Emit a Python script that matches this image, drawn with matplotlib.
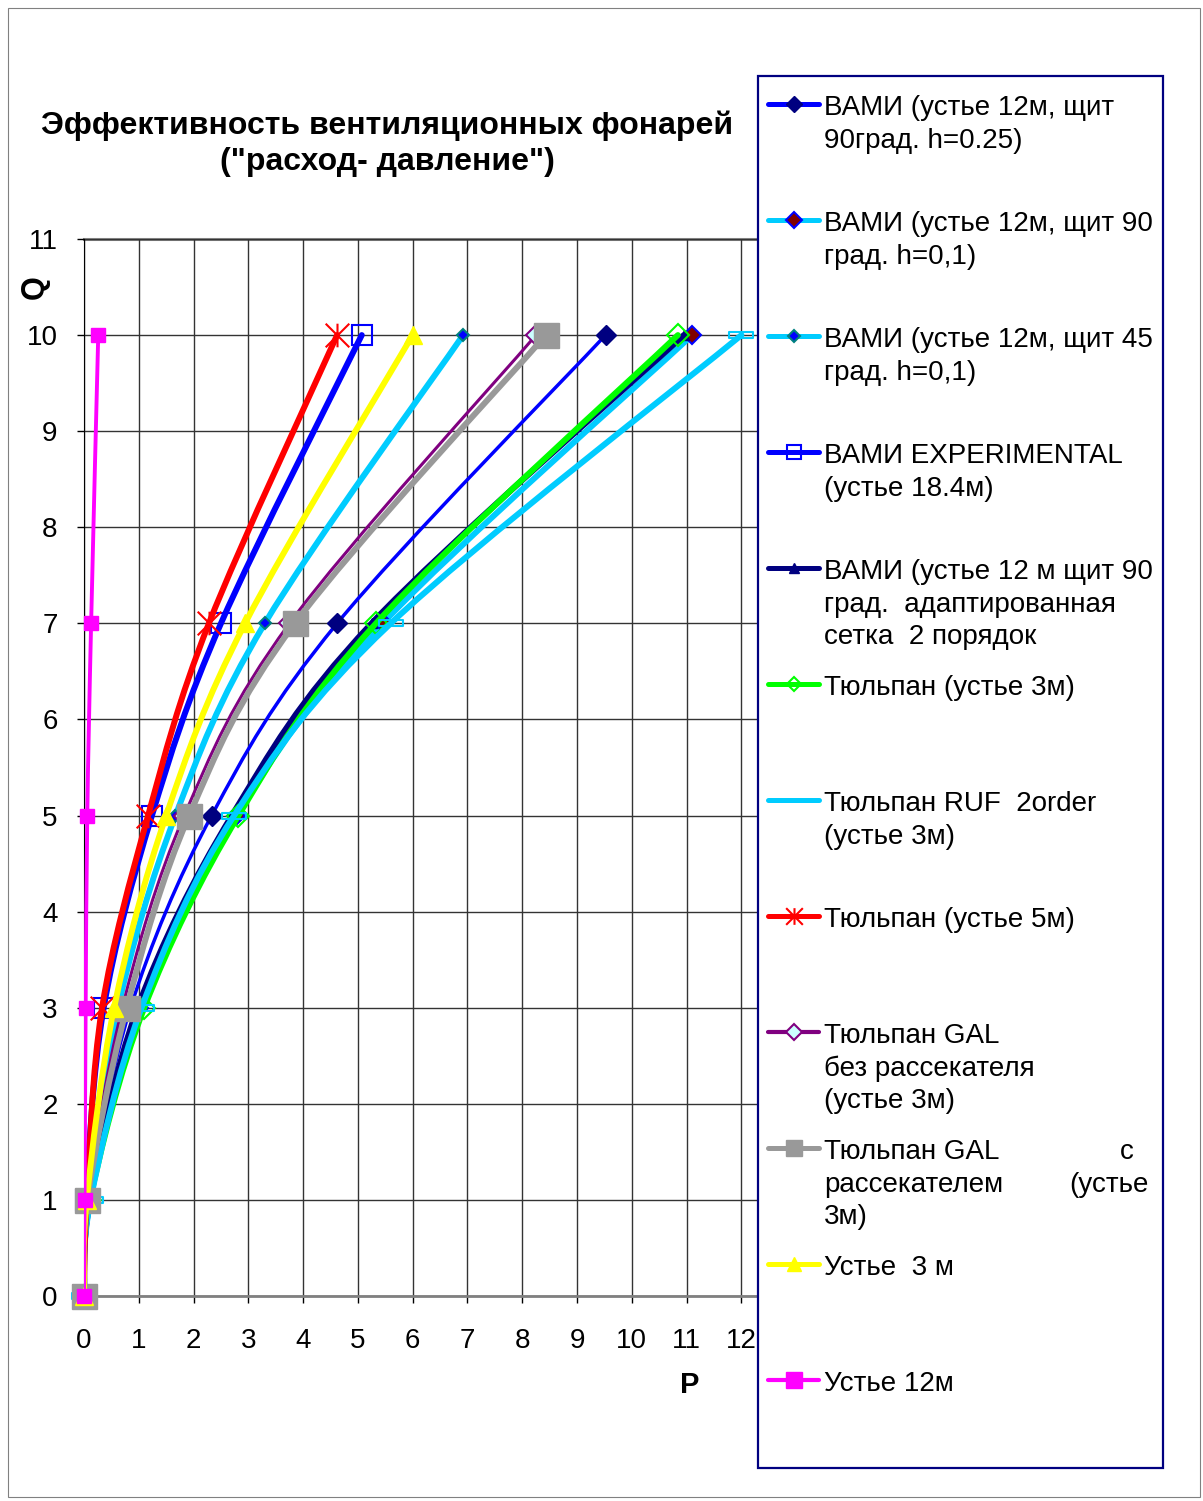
import matplotlib
matplotlib.use("Agg")
import matplotlib.pyplot as plt
from matplotlib.path import Path
from matplotlib.patches import PathPatch, Rectangle
from matplotlib.lines import Line2D
import numpy as np

# ---------------- data ----------------
Q = [0, 1, 3, 5, 7, 10]
p_vami_90_h025 = [0, 0.10, 0.85, 2.33, 4.62, 9.52]
p_vami_90_h01 = [0, 0.11, 1.00, 2.78, 5.45, 11.10]
p_vami_45_h01 = [0, 0.07, 0.62, 1.67, 3.30, 6.92]
p_vami_exp = [0, 0.03, 0.36, 1.24, 2.50, 5.07]
p_vami_adapt = [0, 0.11, 0.98, 2.70, 5.25, 10.95]
p_tulip_3 = [0, 0.11, 1.10, 2.82, 5.33, 10.84]
p_tulip_ruf = [0, 0.12, 1.05, 2.74, 5.60, 12.00]
p_tulip_5 = [0, 0.05, 0.33, 1.17, 2.28, 4.62]
p_gal_no = [0, 0.06, 0.70, 1.83, 3.75, 8.25]
p_gal_with = [0, 0.06, 0.78, 1.92, 3.85, 8.43]
p_mouth_3 = [0, 0.05, 0.55, 1.50, 2.94, 6.00]
p_mouth_12 = [0, 0.01, 0.03, 0.06, 0.13, 0.26]

labels = [
    ["ВАМИ (устье 12м, щит", "90град. h=0.25)"],
    ["ВАМИ (устье 12м, щит 90", "град. h=0,1)"],
    ["ВАМИ (устье 12м, щит 45", "град. h=0,1)"],
    ["ВАМИ EXPERIMENTAL", "(устье 18.4м)"],
    ["ВАМИ (устье 12 м щит 90", "град.  адаптированная", "сетка  2 порядок"],
    ["Тюльпан (устье 3м)"],
    ["Тюльпан RUF  2order", "(устье 3м)"],
    ["Тюльпан (устье 5м)"],
    ["Тюльпан GAL", "без рассекателя", "(устье 3м)"],
    None,  # justified entry, drawn separately
    ["Устье  3 м"],
    ["Устье 12м"],
]
title_lines = ["Эффективность вентиляционных фонарей", "(\"расход- давление\")"]
x_ticks = list(range(0, 13))
y_ticks = list(range(0, 12))

# ---------------- styles ----------------
star = Path([(0, -1), (0, 1), (-1, -1), (1, 1), (-1, 1), (1, -1)],
            [Path.MOVETO, Path.LINETO, Path.MOVETO, Path.LINETO, Path.MOVETO, Path.LINETO])
dash = Path([(-1, -0.25), (1, -0.25), (1, 0.25), (-1, 0.25), (-1, -0.25)],
            [Path.MOVETO, Path.LINETO, Path.LINETO, Path.LINETO, Path.CLOSEPOLY])

series = [
    dict(p=p_vami_90_h025, c="#0000FF", lw=2.5, llw=3.6, m="D", ms=10, mfc="#000080", mec="#000080", mew=1, lms=8),
    dict(p=p_vami_90_h01, c="#00CCFF", lw=4.3, llw=3.6, m="D", ms=9, mfc="#800000", mec="#0000FF", mew=1.5, lms=8),
    dict(p=p_vami_45_h01, c="#00CCFF", lw=4.3, llw=3.6, m="D", ms=6, mfc="#0000FF", mec="#008080", mew=1.5, lms=6),
    dict(p=p_vami_exp, c="#0000FF", lw=4.3, llw=3.6, m="s", ms=15, mfc="none", mec="#0000FF", mew=1.5, lms=10),
    dict(p=p_vami_adapt, c="#000080", lw=4.3, llw=3.6, m="^", ms=7, mfc="#000080", mec="#000080", mew=1, lms=7),
    dict(p=p_tulip_3, c="#00FF00", lw=4.3, llw=3.6, m="D", ms=11, mfc="none", mec="#00FF00", mew=1.5, lms=7),
    dict(p=p_tulip_ruf, c="#00CCFF", lw=4.3, llw=3.6, m=dash, ms=17, mfc="none", mec="#00CCFF", mew=1.5, lms=0),
    dict(p=p_tulip_5, c="#FF0000", lw=4.3, llw=3.6, m=star, ms=17, mfc="none", mec="#FF0000", mew=1.5, lms=12),
    dict(p=p_gal_no, c="#800080", lw=2.2, llw=3.0, m="D", ms=10, mfc="#CCFFFF", mec="#800080", mew=1.5, lms=8),
    dict(p=p_gal_with, c="#999999", lw=4.3, llw=3.6, m="s", ms=18, mfc="#999999", mec="#999999", mew=1, lms=11),
    dict(p=p_mouth_3, c="#FFFF00", lw=4.3, llw=3.6, m="^", ms=13, mfc="#FFFF00", mec="#FFFF00", mew=1, lms=10),
    dict(p=p_mouth_12, c="#FF00FF", lw=2.8, llw=3.0, m="s", ms=10, mfc="#FF00FF", mec="#FF00FF", mew=1, lms=11),
]

W, H = 1203, 1501
fig = plt.figure(figsize=(W / 100, H / 100), dpi=100)
plt.rcParams["font.family"] = ["Liberation Sans", "DejaVu Sans"]

x0, x14, y0, y11 = 84, 851, 1296, 239
ax = fig.add_axes([x0 / W, 1 - y0 / H, (x14 - x0) / W, (y0 - y11) / H])
ax.set_xlim(0, 14)
ax.set_ylim(0, 11)
ax.set_xticks(x_ticks)
ax.set_yticks(y_ticks)
ax.tick_params(labelsize=20, length=5, width=1, colors="black")
ax.tick_params(axis="x", pad=18)
ax.tick_params(axis="y", pad=14)
for s in ["top", "right"]:
    ax.spines[s].set_visible(False)
ax.spines["left"].set_color("#000000")
ax.spines["bottom"].set_color("#808080")
ax.spines["bottom"].set_linewidth(2)
ax.grid(True, color="#333333", linewidth=1.0)
ax.axhline(11, color="#808080", linewidth=2.2, zorder=1.5, clip_on=False)


def smooth_path(xs, ys):
    pts = np.column_stack([xs, ys]).astype(float)
    n = len(pts)
    verts = [pts[0]]
    codes = [Path.MOVETO]
    for i in range(n - 1):
        p0 = pts[i - 1] if i > 0 else pts[i]
        p1 = pts[i]
        p2 = pts[i + 1]
        p3 = pts[i + 2] if i + 2 < n else pts[i + 1]
        c1 = p1 + (p2 - p0) / 6.0
        c2 = p2 - (p3 - p1) / 6.0
        verts += [c1, c2, p2]
        codes += [Path.CURVE4] * 3
    return Path(verts, codes)


for i, s in enumerate(series):
    z = 3 + i * 0.1
    patch = PathPatch(smooth_path(s["p"], Q), fill=False, edgecolor=s["c"], linewidth=s["lw"],
                      capstyle="round", joinstyle="round", zorder=z)
    ax.add_patch(patch)
    ax.plot(s["p"], Q, linestyle="none", marker=s["m"], markersize=s["ms"],
            markerfacecolor=s["mfc"], markeredgecolor=s["mec"], markeredgewidth=s["mew"],
            zorder=z + 0.05, clip_on=False)

# ---------------- overlay in pixel coordinates ----------------
ov = fig.add_axes([0, 0, 1, 1], zorder=10)
ov.set_xlim(0, W)
ov.set_ylim(H, 0)
ov.axis("off")
ov.patch.set_alpha(0)

ov.add_patch(Rectangle((8, 8), 1192, 1489, fill=False, edgecolor="#808080", linewidth=0.8))

ov.text(387, 134, title_lines[0], ha="center", va="baseline", fontsize=23, fontweight="bold")
ov.text(387, 170, title_lines[1], ha="center", va="baseline", fontsize=23, fontweight="bold")
ov.text(35, 287, "Q", ha="center", va="center", rotation=90, fontsize=22, fontweight="bold")
ov.text(690, 1385, "P", ha="center", va="center", fontsize=21, fontweight="bold")

# legend box
ov.add_patch(Rectangle((758, 76), 405, 1392, facecolor="white", edgecolor="#000080", linewidth=1.6))
for k, s in enumerate(series):
    yc = 104 + 116 * k
    ov.add_line(Line2D([768, 819], [yc, yc], color=s["c"], linewidth=s["llw"], solid_capstyle="round"))
    if s["lms"] > 0:
        ov.add_line(Line2D([793.5], [yc], linestyle="none", marker=s["m"], markersize=s["lms"],
                           markerfacecolor=s["mfc"], markeredgecolor=s["mec"], markeredgewidth=s["mew"]))
    base = 115 + 116 * k
    if labels[k] is not None:
        for j, line in enumerate(labels[k]):
            ov.text(824, base + 32.5 * j, line, ha="left", va="baseline", fontsize=20)
    else:
        ov.text(824, base, "Тюльпан GAL", ha="left", va="baseline", fontsize=20)
        ov.text(1134, base, "с", ha="right", va="baseline", fontsize=20)
        ov.text(824, base + 32.5, "рассекателем", ha="left", va="baseline", fontsize=20)
        ov.text(1149, base + 32.5, "(устье", ha="right", va="baseline", fontsize=20)
        ov.text(824, base + 65, "3м)", ha="left", va="baseline", fontsize=20)

fig.savefig("out.png", dpi=100)
